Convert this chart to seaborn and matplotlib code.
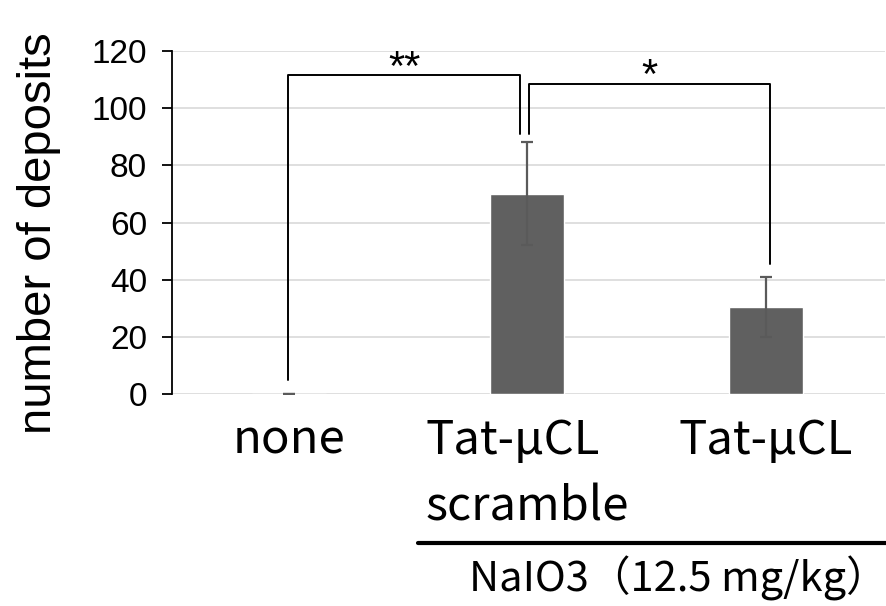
import matplotlib
matplotlib.use("Agg")
import matplotlib.pyplot as plt
import seaborn as sns
import pandas as pd
from matplotlib.lines import Line2D

# data
groups = ["none", "Tat-μCL\nscramble", "Tat-μCL"]
means = [0.0, 70.0, 30.5]
errors = [0.0, 18.0, 10.5]

# significance brackets: (left x, right x, top y, left foot y, right foot y, label)
brackets = [
    (-0.004, 0.97, 111.5, 5.0, 91.0, "**"),
    (1.007, 2.017, 108.5, 91.0, 45.5, "*"),
]
treatment_label = "NaIO3（12.5 mg/kg）"
yticks = [0, 20, 40, 60, 80, 100, 120]

sns.set_theme(style="white")
plt.rcParams["font.family"] = ["Liberation Sans", "DejaVu Sans"]
jp = ["Noto Sans CJK JP", "DejaVu Sans"]

df = pd.DataFrame({"group": groups, "count": means})

fig = plt.figure(figsize=(8.86, 6.06), dpi=100)
ax = fig.add_axes([0.1941, 0.3498, 0.805, 0.566])

sns.barplot(data=df, x="group", y="count", color="#606060", saturation=1,
            width=0.31, errorbar=None, ax=ax, zorder=3)
ax.errorbar(range(len(groups)), means, yerr=errors, fmt="none",
            ecolor="#5a5a5a", elinewidth=1.6, capsize=4.3, capthick=1.6, zorder=4)

for x0, x1, top, foot0, foot1, lab in brackets:
    ax.plot([x0, x0, x1, x1], [foot0, top, top, foot1], color="black",
            lw=1.4, clip_on=False, zorder=5)
    ax.text((x0 + x1) / 2, top - 1.6, lab, ha="center", va="baseline",
            fontsize=30, color="black", clip_on=False)

ax.set_xlim(-0.49, 2.5)
ax.set_ylim(0, 120)
ax.set_yticks(yticks)
ax.yaxis.grid(True, color="#d9d9d9", lw=1.2, zorder=0)
ax.set_axisbelow(True)
for s in ["top", "right", "bottom"]:
    ax.spines[s].set_visible(False)
ax.spines["left"].set_color("black")
ax.spines["left"].set_linewidth(1.3)
ax.tick_params(axis="y", left=True, length=7, width=1.3, color="black",
               labelsize=24, labelcolor="black", pad=11)
ax.tick_params(axis="x", bottom=False, pad=10, labelcolor="black")
ax.set_xticks(range(len(groups)))
ax.set_xticklabels(groups, fontsize=34, family=jp, linespacing=1.48,
                   multialignment="left")
ax.set_xlabel("")
ax.set_ylabel("number of deposits", fontsize=34, color="black")
ax.yaxis.set_label_coords(-0.155, 0.47)

fig.add_artist(Line2D([418 / 886, 1.0], [1 - 543 / 606, 1 - 543 / 606],
                      color="black", lw=3))
fig.text(678 / 886, 1 - 578 / 606, treatment_label, ha="center", va="center",
         fontsize=30, family=jp, color="black")

fig.savefig("out.png", dpi=100)
